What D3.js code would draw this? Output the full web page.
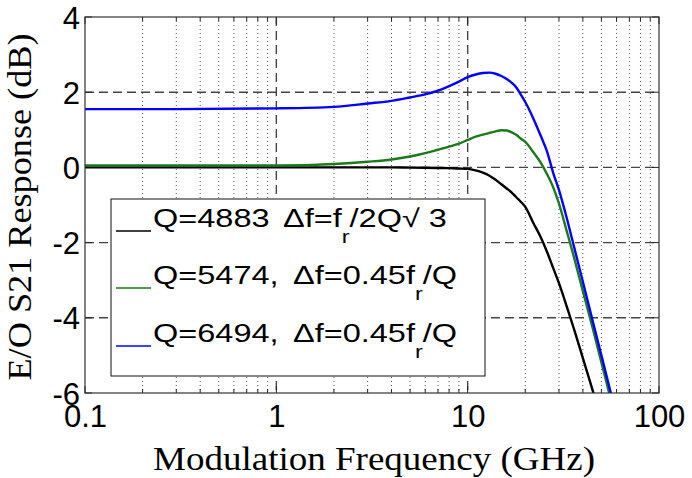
<!DOCTYPE html>
<html><head><meta charset="utf-8">
<script src="https://cdn.jsdelivr.net/npm/d3@7"></script>
<style>
html,body{margin:0;padding:0;background:#fff;}
svg{display:block;}
</style></head>
<body>
<svg id="c" width="692" height="478"></svg>
<script>
// ---- data ----
const freqs = [0.1, 0.3, 1, 2, 3, 4, 5, 6, 7, 8, 9, 10, 11, 12, 13, 14, 15, 16, 17, 18, 19, 20, 22, 24, 26, 28, 30, 33, 36, 40, 45, 50, 56, 60];
const q4883 = [0, 0, 0, 0, 0, 0, -0.005, -0.01, -0.015, -0.02, -0.03, -0.04, -0.08, -0.14, -0.22, -0.33, -0.45, -0.56, -0.67, -0.80, -0.92, -1.05, -1.47, -1.84, -2.25, -2.68, -3.08, -3.71, -4.31, -5.07, -5.93, -6.7, -7.5, -8.0];
const q5474 = [0.05, 0.05, 0.05, 0.09, 0.15, 0.21, 0.29, 0.38, 0.47, 0.55, 0.63, 0.73, 0.82, 0.87, 0.92, 0.96, 0.99, 0.98, 0.93, 0.86, 0.76, 0.68, 0.41, 0.14, -0.18, -0.53, -0.96, -1.71, -2.40, -3.29, -4.27, -5.19, -6.17, -6.75];
const q6494 = [1.55, 1.55, 1.57, 1.61, 1.70, 1.77, 1.86, 1.94, 2.04, 2.16, 2.28, 2.40, 2.47, 2.51, 2.52, 2.49, 2.43, 2.35, 2.25, 2.12, 1.93, 1.74, 1.31, 0.86, 0.42, -0.15, -0.60, -1.36, -2.12, -3.04, -4.08, -5.0, -6.0, -6.6];
const xTicks = [0.1, 1, 10, 100];
const xTickLabels = ["0.1", "1", "10", "100"];
const yTicks = [-6, -4, -2, 0, 2, 4];
const yTickLabels = ["-6", "-4", "-2", "0", "2", "4"];
const seriesNames = ["Q=4883", "Q=5474,", "Q=6494,"];
const seriesColors = ["#000000", "#1a7a1a", "#0000ff"];
const xLabel = "Modulation Frequency (GHz)";
const yLabel = "E/O S21 Response (dB)";

const svg = d3.select("#c");
const L = 85, R = 659, T = 17, B = 393;
const x = d3.scaleLog().domain([0.1, 100]).range([L, R]);
const y = d3.scaleLinear().domain([-6, 4]).range([B, T]);

// minor ticks
const minor = [];
for (let d = 0.1; d < 100; d *= 10) for (let k = 2; k <= 9; k++) minor.push(+(d * k).toPrecision(3));

const g = svg.append("g");
g.selectAll(".mg").data(minor).join("line")
  .attr("x1", d => x(d)).attr("x2", d => x(d)).attr("y1", T).attr("y2", B)
  .attr("stroke", "#555").attr("stroke-width", 1).attr("stroke-dasharray", "1,3");
g.selectAll(".vg").data([1, 10]).join("line")
  .attr("x1", d => x(d)).attr("x2", d => x(d)).attr("y1", T).attr("y2", B)
  .attr("stroke", "#444").attr("stroke-width", 1.4).attr("stroke-dasharray", "9,5");
g.selectAll(".hg").data([-4, -2, 0, 2]).join("line")
  .attr("x1", L).attr("x2", R).attr("y1", d => y(d)).attr("y2", d => y(d))
  .attr("stroke", "#444").attr("stroke-width", 1.4).attr("stroke-dasharray", "9,5");

// ticks inside on all sides
const tk = svg.append("g").attr("stroke", "#222").attr("stroke-width", 1);
xTicks.forEach(d => {
  tk.append("line").attr("x1", x(d)).attr("x2", x(d)).attr("y1", B).attr("y2", B - 7);
  tk.append("line").attr("x1", x(d)).attr("x2", x(d)).attr("y1", T).attr("y2", T + 7);
});
minor.forEach(d => {
  tk.append("line").attr("x1", x(d)).attr("x2", x(d)).attr("y1", B).attr("y2", B - 4);
  tk.append("line").attr("x1", x(d)).attr("x2", x(d)).attr("y1", T).attr("y2", T + 4);
});
yTicks.forEach(d => {
  tk.append("line").attr("x1", L).attr("x2", L + 7).attr("y1", y(d)).attr("y2", y(d));
  tk.append("line").attr("x1", R).attr("x2", R - 7).attr("y1", y(d)).attr("y2", y(d));
});

svg.append("clipPath").attr("id", "clip").append("rect")
  .attr("x", L).attr("y", T).attr("width", R - L).attr("height", B - T);

const line = d3.line().x(d => x(d[0])).y(d => y(d[1])).curve(d3.curveMonotoneX);
const series = [q4883, q5474, q6494];
const cg = svg.append("g").attr("clip-path", "url(#clip)");
series.forEach((s, i) => {
  cg.append("path").datum(freqs.map((f, j) => [f, s[j]]))
    .attr("d", line).attr("fill", "none")
    .attr("stroke", seriesColors[i]).attr("stroke-width", 2.4);
});

svg.append("rect").attr("x", L).attr("y", T).attr("width", R - L).attr("height", B - T)
  .attr("fill", "none").attr("stroke", "#333").attr("stroke-width", 1.2);

const xa = svg.append("g").attr("transform", `translate(0,${B})`)
  .call(d3.axisBottom(x).tickValues(xTicks).tickFormat((d, i) => xTickLabels[i]).tickSize(0).tickPadding(6));
xa.select(".domain").remove();
xa.selectAll("text").attr("font-family", "Liberation Sans, Arial, sans-serif").attr("font-size", 31).attr("fill", "#000")
  .attr("dy", null).attr("y", 34);
const ya = svg.append("g").attr("transform", `translate(${L},0)`)
  .call(d3.axisLeft(y).tickValues(yTicks).tickFormat((d, i) => yTickLabels[i]).tickSize(0).tickPadding(5));
ya.select(".domain").remove();
ya.selectAll("text").attr("font-family", "Liberation Sans, Arial, sans-serif").attr("font-size", 31).attr("fill", "#000")
  .attr("dy", "0.36em");

svg.append("text").attr("x", 374).attr("y", 470).attr("text-anchor", "middle")
  .attr("font-family", "Liberation Serif, Times New Roman, serif").attr("font-size", 34)
  .attr("textLength", 442).attr("lengthAdjust", "spacingAndGlyphs").text(xLabel);
svg.append("text").attr("transform", "translate(31,207) rotate(-90)").attr("text-anchor", "middle")
  .attr("font-family", "Liberation Serif, Times New Roman, serif").attr("font-size", 34)
  .attr("textLength", 347).attr("lengthAdjust", "spacingAndGlyphs").text(yLabel);

// legend
const lg = svg.append("g");
lg.append("rect").attr("x", 111).attr("y", 199).attr("width", 374).attr("height", 177)
  .attr("fill", "#fff").attr("stroke", "#111").attr("stroke-width", 1);
const baseY = [227, 284, 342];
const dfX = [283, 293, 293];
const fontS = "Liberation Sans, Arial, sans-serif";
const sx = 1.3;
seriesNames.forEach((n, i) => {
  lg.append("line").attr("x1", 116).attr("x2", 151).attr("y1", baseY[i] + 4).attr("y2", baseY[i] + 4)
    .attr("stroke", seriesColors[i]).attr("stroke-width", 1.6);
  lg.append("g").attr("transform", `translate(153,${baseY[i]}) scale(${sx},1)`)
    .append("text").attr("font-family", fontS).attr("font-size", 25).attr("fill", "#000").text(n);
  const t2 = lg.append("g").attr("transform", `translate(${dfX[i]},${baseY[i]}) scale(${sx},1)`)
    .append("text").attr("font-family", fontS).attr("font-size", 25).attr("fill", "#000");
  if (i === 0) {
    t2.append("tspan").text("Δf=f");
    t2.append("tspan").attr("font-size", 18).attr("dy", 16).text("r");
    t2.append("tspan").attr("dy", -16).text("/2Q√ 3");
  } else {
    t2.append("tspan").text("Δf=0.45f");
    t2.append("tspan").attr("font-size", 18).attr("dy", 16).text("r");
    t2.append("tspan").attr("dy", -16).text("/Q");
  }
});
</script>
</body></html>
